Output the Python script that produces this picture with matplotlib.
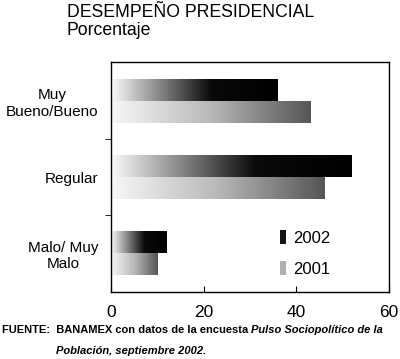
import numpy as np
import matplotlib
matplotlib.use('Agg')
import matplotlib.pyplot as plt
from matplotlib.colors import LinearSegmentedColormap
from matplotlib.patches import Patch

plt.rcParams['font.family'] = ['Liberation Sans', 'DejaVu Sans']

categories = ['Muy\nBueno/Bueno', 'Regular', 'Malo/ Muy\nMalo']
years = ['2002', '2001']
values_2002 = [36, 52, 12]
values_2001 = [43, 46, 10]

cmap_2002 = LinearSegmentedColormap.from_list('g2002', [(0, '#fbfbfb'), (0.6, '#0a0a0a'), (1, '#000000')])
cmap_2001 = LinearSegmentedColormap.from_list('g2001', [(0, '#f8f8f8'), (0.5, '#b8b8b8'), (1, '#555555')])

fig = plt.figure(figsize=(4, 3.59), dpi=100)
ax = fig.add_axes([0.2775, 0.1866, 0.695, 0.6407])

h = 0.29
y = np.arange(len(categories))
grad = np.linspace(0, 1, 256).reshape(1, -1)

for vals, off, cmap in [(values_2002, -h / 2, cmap_2002), (values_2001, h / 2, cmap_2001)]:
    bars = ax.barh(y + off, vals, height=h, color='none', edgecolor='none')
    for b, v in zip(bars, vals):
        y0 = b.get_y()
        im = ax.imshow(grad, cmap=cmap, aspect='auto', extent=(0, v, y0 + h, y0),
                       interpolation='bilinear')
        im.set_clip_path(b)

ax.set_xlim(0, 60)
ax.set_ylim(2.51, -0.51)
ax.set_xticks([0, 20, 40, 60])
ax.tick_params(axis='x', direction='in', length=4, pad=9, labelsize=12.5)
ax.set_yticks(y)
ax.set_yticklabels(categories, multialignment='center')
ax.tick_params(axis='y', which='major', length=0, pad=9, labelsize=11)
ax.set_yticks([0.5, 1.5], minor=True)
ax.tick_params(axis='y', which='minor', direction='out', length=4)
for s in ax.spines.values():
    s.set_linewidth(1.0)

handles = [Patch(facecolor='#151515'), Patch(facecolor='#b0b0b0')]
ax.legend(handles, years, loc='lower left', bbox_to_anchor=(0.555, 0.0), frameon=False,
          handlelength=0.35, handleheight=0.9, handletextpad=0.4, labelspacing=0.95,
          fontsize=12)

fig.text(0.1675, 0.965, 'DESEMPEÑO PRESIDENCIAL', fontsize=12.7, va='center', ha='left')
fig.text(0.1675, 0.915, 'Porcentaje', fontsize=12.7, va='center', ha='left')

t1 = fig.text(0.005, 0.072, 'FUENTE:  BANAMEX con datos de la encuesta ', fontsize=8.05,
              fontweight='bold', va='baseline')
ax.annotate('Pulso Sociopolítico de la', xy=(1, 0), xycoords=t1, fontsize=8.05,
            fontweight='bold', style='italic', va='bottom')
fig.text(0.14, 0.015, 'Población, septiembre 2002.', fontsize=8.05, fontweight='bold',
         style='italic', va='baseline')

fig.savefig('out.png', dpi=100)
